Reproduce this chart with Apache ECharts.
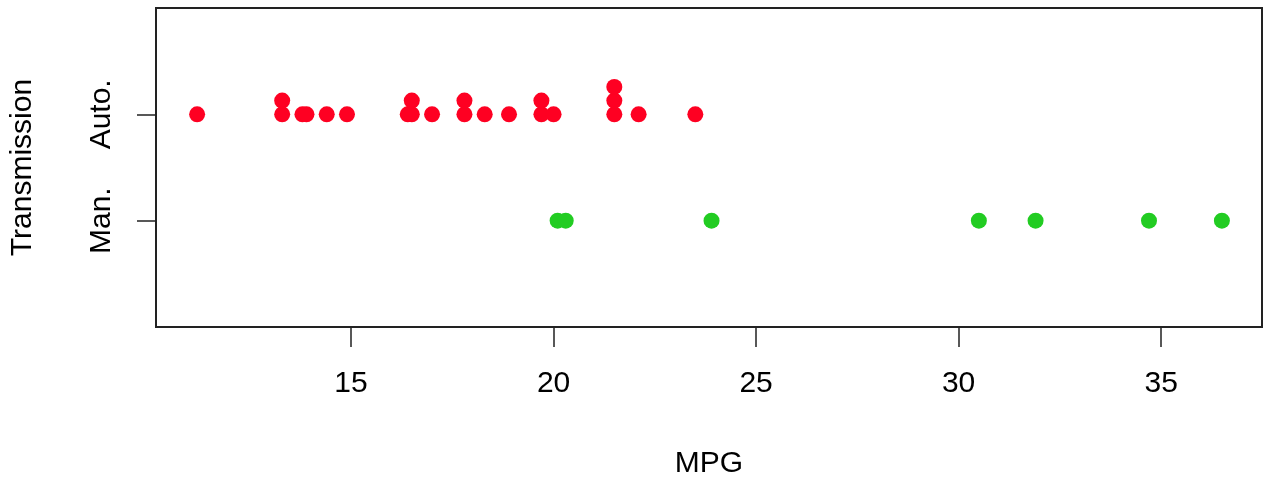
<!DOCTYPE html>
<html>
<head>
<meta charset="utf-8">
<script src="https://cdn.jsdelivr.net/npm/echarts@6/dist/echarts.min.js"></script>
<style>
  html, body { margin: 0; padding: 0; background: #fff; }
  #main { width: 1270px; height: 484px; }
</style>
</head>
<body>
<div id="main"></div>
<script>
// MPG 数据
var autoMpg = [11.2, 13.3, 13.3, 13.8, 13.9, 14.4, 14.9, 16.4, 16.5, 16.5, 17.0,
               17.8, 17.8, 18.3, 18.9, 19.7, 19.7, 20.0, 21.5, 21.5, 21.5, 22.1, 23.5];
var manMpg = [20.1, 20.3, 23.9, 30.5, 31.9, 34.7, 36.5];
var groupNames = ['Man.', 'Auto.'];   // y = 1, 2
var xTicks = [15, 20, 25, 30, 35];

var stackOffset = 0.129;
var font = 'Liberation Sans, Arial, sans-serif';

// stack 方式：相同数值往上叠
function stackPoints(vals, level) {
    var seen = {};
    var out = [];
    for (var i = 0; i < vals.length; i++) {
        var k = seen[vals[i]] || 0;
        seen[vals[i]] = k + 1;
        out.push([vals[i], level + k * stackOffset]);
    }
    return out;
}

var chartDom = document.getElementById('main');
var myChart = echarts.init(chartDom);
var option;

option = {
    animation: false,
    grid: {
        left: 156, right: 8, top: 8, bottom: 157,
        show: true,
        borderColor: '#222',
        borderWidth: 2
    },
    xAxis: {
        type: 'value',
        min: 10.185,
        max: 37.49,
        name: 'MPG',
        nameLocation: 'middle',
        nameGap: 122,
        nameTextStyle: { fontFamily: font, fontSize: 30, color: '#000', lineHeight: 30, verticalAlign: 'top' },
        splitLine: { show: false },
        axisLine: { show: false },
        axisTick: {
            show: true, length: 20, inside: false,
            customValues: xTicks,
            lineStyle: { color: '#222', width: 1.5 }
        },
        axisLabel: {
            customValues: xTicks,
            margin: 42,
            fontFamily: font, fontSize: 30, color: '#000', lineHeight: 30,
            showMinLabel: true, showMaxLabel: true
        }
    },
    yAxis: {
        type: 'value',
        min: 0,
        max: 3,
        name: 'Transmission',
        nameLocation: 'middle',
        nameGap: 118,
        nameTextStyle: { fontFamily: font, fontSize: 30, color: '#000', lineHeight: 30 },
        splitLine: { show: false },
        axisLine: { show: false },
        axisTick: {
            show: true, length: 19,
            customValues: [1, 2],
            lineStyle: { color: '#222', width: 1.5 }
        },
        axisLabel: {
            customValues: [1, 2],
            rotate: 90,
            margin: 39,
            fontFamily: font, fontSize: 30, color: '#000', lineHeight: 30,
            formatter: function (v) { return groupNames[Math.round(v) - 1]; }
        }
    },
    series: [
        {
            name: 'Auto.',
            type: 'scatter',
            symbol: 'circle',
            symbolSize: 16,
            itemStyle: { color: '#fe0022', opacity: 1 },
            data: stackPoints(autoMpg, 2)
        },
        {
            name: 'Man.',
            type: 'scatter',
            symbol: 'circle',
            symbolSize: 16,
            itemStyle: { color: '#22cc22', opacity: 1 },
            data: stackPoints(manMpg, 1)
        }
    ]
};

option && myChart.setOption(option);
</script>
</body>
</html>
